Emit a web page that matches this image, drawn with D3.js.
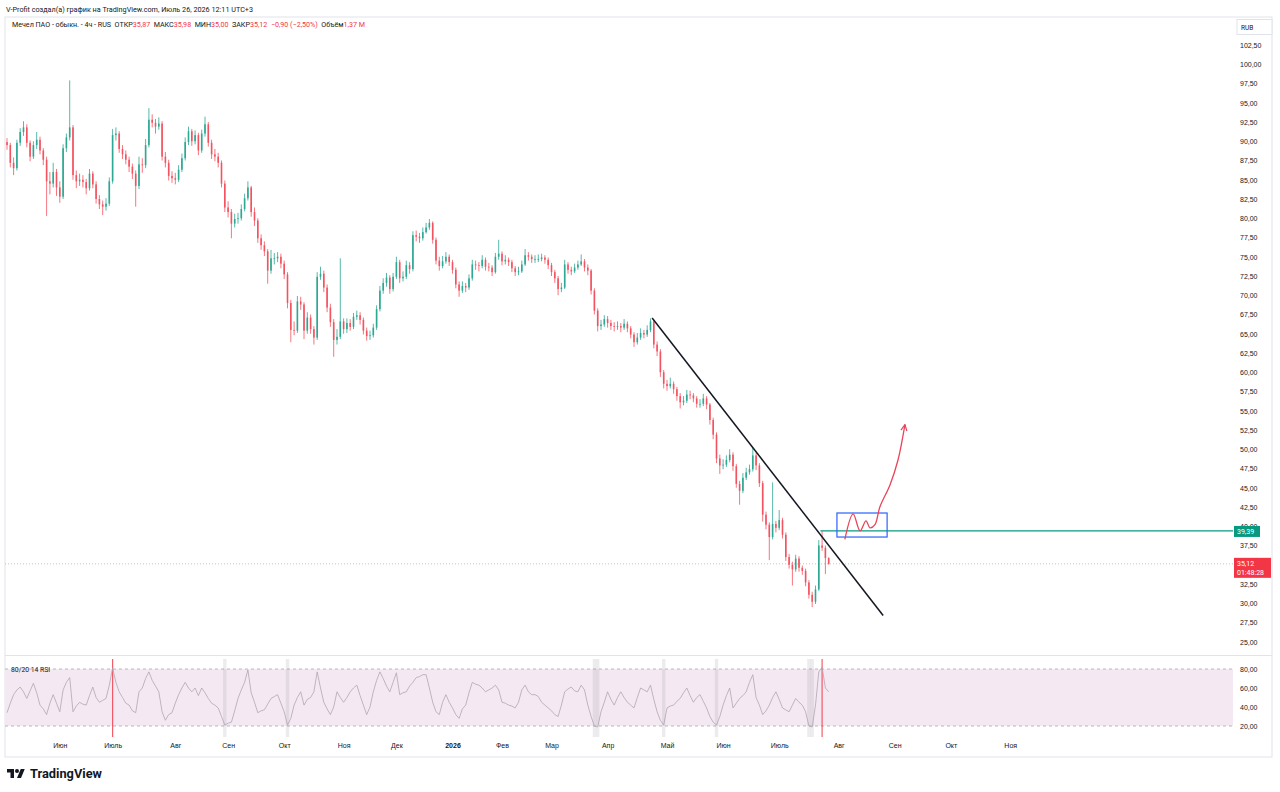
<!DOCTYPE html>
<html>
<head>
<meta charset="utf-8">
<script src="https://cdn.jsdelivr.net/npm/d3@7"></script>
<style>
  body { margin: 0; background: #fff; }
  svg { display: block; font-family: Roboto, "Liberation Sans", Arial, sans-serif; }
</style>
</head>
<body>
<svg id="chart" width="1280" height="792"></svg>
<script>
// 4h candles, Mechel common shares (one bar per ~1.5 trading days)
const firstOpen = 89.9;
const closes = [
  89.5, 87.2, 86.5, 89.8, 91.2, 91.8, 89.8, 88.0, 89.5, 90.2,
  88.8, 87.6, 84.8, 84.5, 86.0, 84.0, 82.8, 89.1, 90.5, 91.8,
  85.6, 84.8, 85.0, 84.7, 83.9, 85.8, 84.4, 82.5, 81.8, 81.5,
  81.9, 84.8, 90.8, 91.0, 89.0, 88.3, 87.6, 86.7, 85.8, 84.2,
  87.0, 86.9, 89.5, 92.8, 92.4, 91.9, 92.3, 88.0, 87.2, 85.5,
  85.2, 85.0, 86.3, 87.8, 89.9, 91.3, 90.0, 90.8, 88.8, 91.0,
  92.2, 89.8, 88.3, 88.0, 87.2, 84.5, 81.4, 80.8, 79.3, 79.9,
  80.0, 81.2, 82.6, 84.0, 80.8, 79.7, 77.4, 76.5, 75.7, 73.2,
  74.8, 74.8, 75.0, 74.1, 72.7, 69.0, 65.5, 65.4, 69.2, 68.8,
  65.4, 67.1, 65.6, 64.5, 72.4, 72.8, 71.0, 68.4, 66.5, 64.2,
  64.6, 66.6, 65.6, 66.4, 65.9, 67.2, 67.4, 66.8, 65.4, 64.7,
  64.8, 65.8, 68.2, 70.6, 71.6, 72.3, 70.8, 72.4, 74.3, 72.2,
  72.4, 73.9, 73.4, 77.8, 77.6, 77.4, 78.2, 78.8, 79.4, 77.2,
  74.5, 73.8, 74.4, 75.0, 74.3, 73.3, 71.4, 70.6, 71.2, 71.0,
  72.2, 74.0, 73.9, 73.8, 74.6, 73.7, 73.6, 73.0, 75.0, 75.4,
  74.4, 74.6, 74.3, 73.5, 73.0, 73.1, 74.0, 75.2, 75.0, 74.7,
  74.7, 74.7, 74.9, 74.6, 73.9, 73.0, 72.2, 70.8, 71.0, 74.0,
  73.3, 73.1, 73.6, 74.0, 74.4, 73.6, 73.2, 70.6, 68.0, 66.0,
  66.2, 66.9, 66.4, 66.0, 65.9, 66.0, 65.8, 66.3, 65.7, 64.9,
  63.9, 64.5, 65.1, 64.9, 65.5, 66.6, 63.6, 62.7, 60.0, 58.5,
  58.2, 58.5, 57.8, 56.9, 56.1, 56.3, 57.1, 57.0, 56.6, 55.9,
  55.9, 56.6, 55.8, 53.8, 51.9, 48.8, 47.9, 48.0, 48.6, 49.3,
  47.8, 45.5, 44.6, 46.3, 47.0, 47.4, 49.2, 47.9, 45.6, 41.5,
  40.2, 38.6, 40.3, 39.8, 40.8, 38.9, 36.0, 35.0, 34.4, 35.8,
  34.6, 34.2, 32.7, 31.1, 30.2, 31.8, 37.5, 37.2, 35.87, 35.12
];
const highs = [
  90.4, 89.8, 87.9, 90.2, 91.7, 92.6, 92.2, 90.1, 90.0, 91.2,
  90.6, 89.1, 88.0, 86.0, 87.2, 86.4, 84.8, 89.6, 91.0, 97.9,
  92.1, 86.2, 85.8, 85.6, 85.1, 86.4, 86.1, 84.8, 83.0, 82.3,
  82.6, 85.3, 91.6, 91.8, 91.3, 89.5, 88.8, 88.0, 87.1, 86.2,
  88.0, 87.8, 90.3, 94.3, 93.5, 92.9, 93.1, 92.6, 88.6, 87.6,
  86.1, 85.9, 86.9, 88.4, 90.5, 91.9, 91.6, 91.4, 91.1, 91.5,
  93.2, 92.5, 90.2, 89.0, 88.5, 87.5, 84.9, 82.2, 81.2, 80.6,
  80.7, 81.8, 83.2, 84.8, 84.2, 81.4, 80.0, 77.9, 77.0, 76.0,
  75.9, 75.5, 75.6, 75.4, 74.5, 73.0, 69.4, 66.6, 69.9, 69.8,
  69.1, 67.8, 67.5, 66.0, 73.0, 73.7, 73.2, 71.4, 68.9, 66.9,
  65.6, 74.8, 67.0, 67.0, 66.9, 67.7, 68.0, 67.8, 67.1, 65.8,
  65.4, 66.3, 68.7, 71.2, 72.2, 72.9, 72.6, 72.9, 75.0, 74.6,
  73.1, 74.5, 74.3, 78.3, 78.4, 78.1, 78.8, 79.4, 79.9, 79.6,
  77.5, 75.0, 75.1, 75.6, 75.3, 74.6, 73.6, 71.8, 71.8, 71.6,
  72.7, 74.6, 74.5, 74.3, 75.2, 74.9, 74.2, 73.9, 75.5, 77.2,
  75.7, 75.2, 74.9, 74.6, 73.8, 73.7, 74.5, 76.0, 75.6, 75.3,
  75.2, 75.3, 75.4, 75.2, 74.9, 74.2, 73.3, 72.5, 71.6, 74.6,
  74.3, 73.7, 74.1, 74.5, 75.3, 74.7, 74.0, 73.4, 70.9, 68.3,
  66.8, 67.4, 67.3, 66.8, 66.5, 66.6, 66.4, 66.9, 66.6, 66.0,
  65.2, 65.1, 65.7, 65.5, 66.1, 67.0, 66.8, 64.0, 63.0, 60.3,
  59.0, 59.3, 58.8, 58.1, 57.3, 56.9, 57.7, 57.6, 57.3, 56.9,
  56.5, 57.2, 56.9, 56.0, 54.1, 52.2, 49.3, 48.7, 49.2, 50.0,
  49.6, 48.1, 45.9, 46.9, 47.6, 48.0, 50.3, 49.5, 48.2, 45.9,
  41.9, 40.5, 45.7, 40.7, 42.1, 41.1, 39.2, 36.4, 35.4, 36.3,
  36.1, 34.9, 34.5, 33.0, 31.5, 32.3, 38.2, 39.39, 37.5, 35.98
];
const lows = [
  88.9, 86.6, 85.6, 86.2, 89.4, 90.7, 89.2, 87.4, 87.7, 89.0,
  88.3, 86.9, 80.3, 83.1, 84.0, 82.9, 82.0, 82.5, 88.6, 90.1,
  85.0, 83.9, 84.2, 84.0, 83.1, 83.6, 83.9, 81.9, 81.2, 80.4,
  81.0, 81.6, 84.5, 90.1, 88.5, 87.7, 87.0, 86.0, 85.1, 81.5,
  83.8, 85.9, 86.5, 89.2, 91.8, 91.0, 91.5, 87.5, 86.6, 84.9,
  84.6, 84.4, 84.7, 86.0, 87.5, 89.5, 89.4, 89.6, 88.2, 88.5,
  90.6, 89.3, 87.7, 87.4, 86.6, 84.0, 80.8, 80.1, 77.4, 78.8,
  79.3, 79.7, 80.9, 82.3, 80.2, 79.0, 76.8, 75.9, 75.1, 71.5,
  72.8, 74.0, 74.3, 73.5, 72.1, 68.3, 63.9, 64.8, 65.1, 68.1,
  64.3, 65.0, 65.0, 63.6, 64.2, 72.0, 70.4, 67.8, 65.9, 62.0,
  63.6, 64.3, 65.0, 65.1, 65.4, 65.6, 66.8, 66.2, 64.9, 64.1,
  64.2, 64.5, 65.5, 67.9, 70.2, 71.1, 70.2, 70.5, 72.1, 71.6,
  71.8, 72.1, 72.8, 73.1, 77.0, 76.8, 77.1, 78.0, 78.5, 76.7,
  74.0, 73.2, 73.5, 74.1, 73.8, 72.8, 70.9, 69.8, 70.3, 70.4,
  70.7, 71.9, 73.3, 73.1, 73.5, 73.2, 73.1, 72.5, 72.8, 74.6,
  73.9, 74.0, 73.8, 73.0, 72.5, 72.6, 72.9, 73.8, 74.5, 74.2,
  74.2, 74.3, 74.4, 74.1, 73.4, 72.5, 71.6, 70.0, 70.4, 70.8,
  72.8, 72.6, 72.9, 73.3, 73.8, 73.1, 72.6, 70.1, 67.5, 65.3,
  65.5, 65.9, 65.8, 65.5, 65.3, 65.5, 65.2, 65.5, 65.2, 64.4,
  63.3, 63.6, 64.2, 64.4, 64.6, 65.2, 63.1, 62.1, 59.4, 57.9,
  57.6, 57.9, 57.2, 56.3, 55.3, 55.7, 56.0, 56.5, 56.1, 55.4,
  55.4, 55.6, 55.2, 53.2, 51.3, 48.2, 46.8, 47.4, 47.7, 48.3,
  47.2, 45.0, 42.8, 44.3, 46.0, 46.7, 47.1, 47.3, 45.1, 40.6,
  39.6, 35.6, 38.3, 39.2, 39.5, 38.4, 35.5, 34.5, 32.3, 34.1,
  34.1, 33.7, 32.2, 30.6, 29.5, 29.9, 31.6, 36.8, 33.8, 35.0
];
const rsiValues = [
  34, 44, 53, 58, 61, 56, 49, 57, 65, 55,
  42, 38, 32, 44, 53, 44, 35, 58, 66, 71,
  35, 41, 45, 43, 42, 52, 61, 50, 45, 47,
  49, 63, 81, 66, 56, 50, 44, 42, 36, 34,
  56, 60, 70, 77, 68, 62, 56, 35, 26, 32,
  34, 44, 53, 60, 66, 60, 56, 60, 52, 60,
  55, 49, 44, 42, 39, 30, 21, 23, 24, 36,
  49, 58, 66, 79, 55, 45, 34, 36, 37, 43,
  49, 51, 53, 44, 35, 21, 28, 42, 50, 56,
  42, 48, 50, 56, 77, 60, 45, 38, 32, 40,
  56, 50, 45, 50, 56, 60, 63, 52, 42, 32,
  40, 56, 68, 77, 70, 62, 56, 66, 76, 53,
  55, 56, 62, 66, 71, 72, 74, 74, 60, 45,
  35, 32, 45, 53, 45, 39, 32, 28, 38, 42,
  55, 66, 64, 63, 60, 56, 58, 60, 63, 58,
  45, 44, 42, 41, 39, 45, 58, 63, 56, 53,
  53, 51, 45, 42, 39, 36, 32, 30, 42, 56,
  59, 61, 57, 56, 63, 58, 42, 30, 20, 19,
  35, 45, 56, 48, 42, 50, 56, 50, 45, 42,
  39, 50, 60, 58, 56, 63, 48, 35, 26, 21,
  39, 41, 42, 46, 49, 55, 60, 52, 45, 50,
  53, 46, 39, 30, 24, 21, 30, 42, 52, 60,
  39, 44, 49, 52, 56, 66, 74, 50, 42, 32,
  36, 42, 50, 56, 48, 39, 37, 35, 42, 49,
  45, 42, 35, 20, 19, 42, 77, 82, 60, 56
];

// axis labels (35,00 sits under the last-price badge, so it is not listed)
const priceTicks = [25, 27.5, 30, 32.5, 37.5, 40, 42.5, 45, 47.5, 50, 52.5, 55, 57.5, 60, 62.5,
  65, 67.5, 70, 72.5, 75, 77.5, 80, 82.5, 85, 87.5, 90, 92.5, 95, 97.5, 100, 102.5];
const rsiTicks = [20, 40, 60, 80];
const monthLabels = ["Июн", "Июль", "Авг", "Сен", "Окт", "Ноя", "Дек", "2026", "Фев", "Мар",
  "Апр", "Май", "Июн", "Июль", "Авг", "Сен", "Окт", "Ноя"];
const monthBars = [16, 32, 51, 67, 84, 102, 118, 135, 150, 165, 182, 200, 217, 234, 252, 269, 286, 304];

// drawings (bar index, price)
const trendLine = [[195.5, 67.05], [265.5, 28.4]];
const levelPrice = 39.39;
const levelStartBar = 246.5;
const boxBars = [251.5, 266.7];
const boxPrices = [38.6, 41.72];
const forecastPath = [[253.9, 38.3], [256.4, 41.6], [258.5, 39.4], [260.3, 40.7], [261.5, 39.8],
  [263.0, 40.2], [264.5, 42.5], [267.6, 45.4], [270.0, 48.6], [272.1, 53.2]];
const lastPrice = 35.12;

const up = "#089981", down = "#f23645", ink = "#131722", gridc = "#e0e3eb";
const fmt = v => d3.format(".2f")(v).replace(".", ",");

const svg = d3.select("#chart");
const paneLeft = 5, paneRight = 1233, frameRight = 1272;
const mainTop = 17, mainBottom = 655, rsiTop = 656, rsiBottom = 737;

const x = d3.scaleLinear().domain([0, 370]).range([7, 7 + 370 * 3.3]);
const y = d3.scaleLinear().domain([25, 102.5]).range([641.75, 45]);
const yRsi = d3.scaleLinear().domain([20, 80]).range([726, 669]);

// frame
svg.append("rect").attr("x", paneLeft).attr("y", mainTop).attr("width", frameRight - paneLeft)
  .attr("height", 757 - mainTop).attr("fill", "none").attr("stroke", gridc);
svg.append("line").attr("x1", paneLeft).attr("x2", frameRight).attr("y1", mainBottom + 0.5).attr("y2", mainBottom + 0.5)
  .attr("stroke", gridc);

// header
svg.append("text").attr("x", 6).attr("y", 11.5).attr("font-size", 7.3).attr("fill", ink)
  .attr("textLength", 247).attr("lengthAdjust", "spacingAndGlyphs")
  .text("V-Profit создал(а) график на TradingView.com, Июль 26, 2026 12:11 UTC+3");
const headerSegs = [
  ["Мечел ПАО - обыкн. - 4ч - RUS  ", ink], ["ОТКР", ink], ["35,87  ", down],
  ["МАКС", ink], ["35,98  ", down], ["МИН", ink], ["35,00  ", down],
  ["ЗАКР", ink], ["35,12  ", down], ["−0,90 (−2,50%)  ", down],
  ["Объём", ink], ["1,37 M", down]
];
svg.append("text").attr("x", 12).attr("y", 27).attr("font-size", 7.2)
  .attr("textLength", 353).attr("lengthAdjust", "spacingAndGlyphs").attr("xml:space", "preserve")
  .style("white-space", "pre")
  .selectAll("tspan").data(headerSegs).join("tspan")
  .attr("fill", d => d[1]).text(d => d[0]);

// main pane clip
svg.append("clipPath").attr("id", "mainClip").append("rect")
  .attr("x", paneLeft).attr("y", mainTop).attr("width", paneRight - paneLeft).attr("height", mainBottom - mainTop);
const main = svg.append("g").attr("clip-path", "url(#mainClip)");

// last price dotted line
main.append("line").attr("x1", paneLeft).attr("x2", paneRight).attr("y1", y(lastPrice)).attr("y2", y(lastPrice))
  .attr("stroke", "#b2b5be").attr("stroke-dasharray", "1,2").attr("stroke-width", 0.8);

// candles
const bars = closes.map((c, i) => ({ i, o: i ? closes[i - 1] : firstOpen, h: highs[i], l: lows[i], c }));
const candles = main.append("g").attr("opacity", 0.85);
candles.selectAll("line").data(bars).join("line")
  .attr("x1", d => x(d.i)).attr("x2", d => x(d.i))
  .attr("y1", d => y(d.h)).attr("y2", d => y(d.l))
  .attr("stroke", d => d.c >= d.o ? up : down).attr("stroke-width", 0.8);
candles.selectAll("rect").data(bars).join("rect")
  .attr("x", d => x(d.i) - 0.8).attr("width", 1.6)
  .attr("y", d => y(Math.max(d.o, d.c)))
  .attr("height", d => Math.max(0.8, Math.abs(y(d.o) - y(d.c))))
  .attr("fill", d => d.c >= d.o ? up : down);

// drawings
main.append("line")
  .attr("x1", x(trendLine[0][0])).attr("y1", y(trendLine[0][1]))
  .attr("x2", x(trendLine[1][0])).attr("y2", y(trendLine[1][1]))
  .attr("stroke", ink).attr("stroke-width", 1.5);
main.append("line")
  .attr("x1", x(levelStartBar)).attr("x2", paneRight)
  .attr("y1", y(levelPrice)).attr("y2", y(levelPrice))
  .attr("stroke", up).attr("stroke-width", 1.2);
main.append("rect")
  .attr("x", x(boxBars[0])).attr("width", x(boxBars[1]) - x(boxBars[0]))
  .attr("y", y(boxPrices[1])).attr("height", y(boxPrices[0]) - y(boxPrices[1]))
  .attr("fill", "none").attr("stroke", "#2962ff").attr("stroke-width", 1.2);
svg.append("defs").append("marker").attr("id", "arrow")
  .attr("viewBox", "0 0 8 8").attr("refX", 7).attr("refY", 4)
  .attr("markerWidth", 8).attr("markerHeight", 8).attr("markerUnits", "userSpaceOnUse")
  .attr("orient", "auto")
  .append("path").attr("d", "M1,1 L7,4 L1,7").attr("fill", "none").attr("stroke", "#e8455c").attr("stroke-width", 1.2);
main.append("path").datum(forecastPath)
  .attr("d", d3.line().x(d => x(d[0])).y(d => y(d[1])).curve(d3.curveCatmullRom))
  .attr("fill", "none").attr("stroke", "#e8455c").attr("stroke-width", 1.3)
  .attr("marker-end", "url(#arrow)");

// RSI pane
const rsiG = svg.append("g");
rsiG.append("rect").attr("x", paneLeft).attr("width", paneRight - paneLeft)
  .attr("y", yRsi(80)).attr("height", yRsi(20) - yRsi(80)).attr("fill", "#f4e9f3");
rsiG.selectAll("line.band").data([80, 20]).join("line").attr("class", "band")
  .attr("x1", paneLeft).attr("x2", paneRight).attr("y1", d => yRsi(d)).attr("y2", d => yRsi(d))
  .attr("stroke", "#b8a0b2").attr("stroke-dasharray", "3,3").attr("stroke-width", 0.8);
const rsiPts = rsiValues.map((v, i) => ({ i, v }));
rsiG.selectAll("rect.os").data(rsiPts.filter(d => d.v <= 21)).join("rect").attr("class", "os")
  .attr("x", d => x(d.i) - 1.7).attr("width", 3.4).attr("y", rsiTop + 3).attr("height", rsiBottom - rsiTop - 3)
  .attr("fill", "#787b86").attr("opacity", 0.14);
rsiG.selectAll("line.ob").data(rsiPts.filter(d => d.v >= 80)).join("line").attr("class", "ob")
  .attr("x1", d => x(d.i)).attr("x2", d => x(d.i)).attr("y1", rsiTop + 3).attr("y2", rsiBottom)
  .attr("stroke", down).attr("stroke-width", 1.2).attr("opacity", 0.8);
rsiG.append("path").datum(rsiPts)
  .attr("d", d3.line().x(d => x(d.i)).y(d => yRsi(d.v)))
  .attr("fill", "none").attr("stroke", "#b0a6b3").attr("stroke-width", 0.8);
rsiG.append("text").attr("x", 11).attr("y", yRsi(80) + 2.5).attr("font-size", 6.8).attr("fill", ink)
  .text("80/20 14 RSI");

// price axis
const pAxis = svg.append("g").attr("transform", "translate(1240,0)")
  .call(d3.axisRight(y).tickValues(priceTicks).tickFormat(fmt).tickSize(0).tickPadding(0));
const rAxis = svg.append("g").attr("transform", "translate(1240,0)")
  .call(d3.axisRight(yRsi).tickValues(rsiTicks).tickFormat(fmt).tickSize(0).tickPadding(0));
[pAxis, rAxis].forEach(g => {
  g.select(".domain").remove();
  g.selectAll("text").attr("font-size", 7).attr("fill", ink).attr("font-family", null);
});

// RUB box
svg.append("rect").attr("x", 1237).attr("y", 19.5).attr("width", 35).attr("height", 15)
  .attr("fill", "#fff").attr("stroke", gridc);
svg.append("text").attr("x", 1241).attr("y", 29.5).attr("font-size", 6.5).attr("fill", ink).text("RUB");

// level and last price labels
svg.append("rect").attr("x", 1234).attr("y", y(levelPrice) - 5).attr("width", 26).attr("height", 11).attr("fill", up);
svg.append("text").attr("x", 1237).attr("y", y(levelPrice) + 3).attr("font-size", 7).attr("fill", "#fff").text(fmt(levelPrice));
svg.append("rect").attr("x", 1234).attr("y", y(lastPrice) - 6).attr("width", 37).attr("height", 20).attr("fill", down);
svg.append("text").attr("x", 1237).attr("y", y(lastPrice) + 2).attr("font-size", 7).attr("fill", "#fff").text(fmt(lastPrice));
svg.append("text").attr("x", 1237).attr("y", y(lastPrice) + 11).attr("font-size", 7).attr("fill", "#fff").text("01:48:28");

// time axis
const tAxis = svg.append("g").attr("transform", "translate(0,743.5)")
  .call(d3.axisBottom(x).tickValues(monthBars).tickFormat((d, i) => monthLabels[i]).tickSize(0).tickPadding(0));
tAxis.select(".domain").remove();
tAxis.selectAll("text").attr("font-size", 7).attr("fill", ink).attr("font-family", null)
  .attr("font-weight", (d, i) => monthLabels[i] === "2026" ? "bold" : null);

// TradingView logo
const logo = svg.append("g").attr("transform", "translate(7,767) scale(0.5)").attr("fill", ink);
logo.append("path").attr("d", "M14 22H7V11H0V4h14v18z");
logo.append("path").attr("d", "M28 22h-8l7.5-18h8L28 22z");
logo.append("circle").attr("cx", 20).attr("cy", 8).attr("r", 4);
svg.append("text").attr("x", 30).attr("y", 778).attr("font-size", 12.5).attr("font-weight", "bold")
  .attr("fill", ink).attr("textLength", 72).attr("lengthAdjust", "spacingAndGlyphs").text("TradingView");
</script>
</body>
</html>
